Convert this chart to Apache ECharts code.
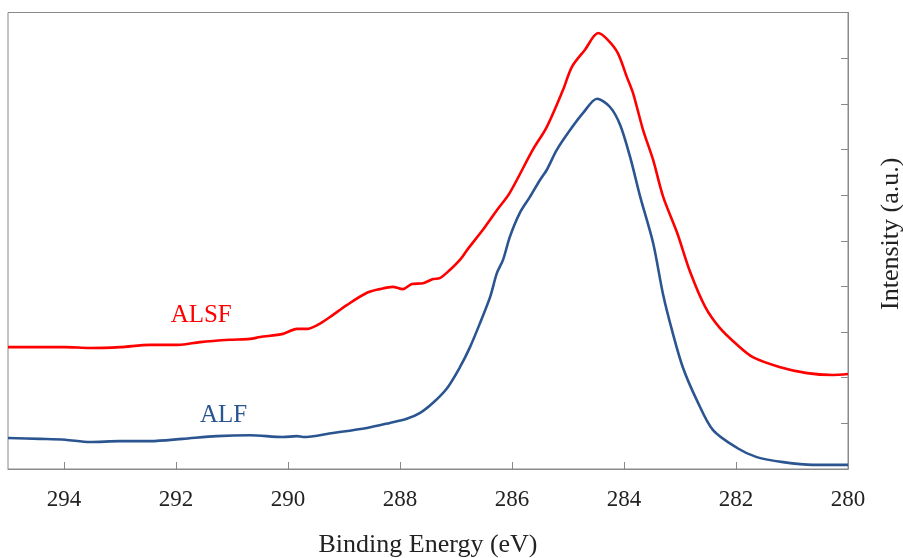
<!DOCTYPE html>
<html>
<head>
<meta charset="utf-8">
<script src="https://cdn.jsdelivr.net/npm/echarts@6/dist/echarts.min.js"></script>
<style>
html,body{margin:0;padding:0;background:#fff;}
#chart{width:903px;height:558px;}
</style>
</head>
<body>
<div id="chart"></div>
<script>
// Binding energy (eV) and intensity (a.u.)
const alsfEnergy = [295.00,294.43,293.98,293.54,293.00,292.46,291.96,291.57,291.04,290.68,290.50,290.09,289.84,289.66,289.48,289.25,288.95,288.59,288.36,288.13,287.95,287.79,287.59,287.41,287.29,287.11,286.93,286.80,286.52,286.27,286.04,285.63,285.38,285.09,284.93,284.70,284.46,284.29,284.11,283.95,283.84,283.66,283.48,283.30,283.05,282.82,282.55,282.29,281.98,281.70,281.21,280.73,280.27,280.00];
const alsfIntensity = [2.67,2.67,2.67,2.65,2.67,2.72,2.72,2.78,2.83,2.85,2.89,2.96,3.07,3.07,3.15,3.33,3.59,3.86,3.94,3.99,3.94,4.05,4.07,4.16,4.18,4.36,4.58,4.80,5.24,5.67,6.05,6.99,7.49,8.30,8.81,9.18,9.55,9.40,9.11,8.59,8.24,7.43,6.77,5.96,5.17,4.32,3.55,3.09,2.72,2.45,2.23,2.10,2.06,2.08];

const alfEnergy = [295.00,294.43,293.98,293.54,293.00,292.46,291.88,291.27,290.68,290.09,289.84,289.73,289.20,288.59,288.18,287.88,287.64,287.41,287.16,286.93,286.75,286.57,286.39,286.27,286.16,286.04,285.86,285.68,285.50,285.38,285.20,284.96,284.73,284.48,284.25,284.07,283.89,283.71,283.48,283.30,283.13,282.95,282.70,282.41,281.98,281.63,281.16,280.63,280.00];
const alfIntensity = [0.68,0.66,0.64,0.59,0.61,0.61,0.66,0.72,0.74,0.70,0.72,0.70,0.79,0.90,1.01,1.10,1.23,1.45,1.77,2.23,2.67,3.20,3.77,4.29,4.58,5.08,5.61,5.96,6.33,6.55,6.99,7.43,7.80,8.11,7.93,7.54,6.83,5.96,4.95,3.81,2.98,2.23,1.51,0.85,0.46,0.26,0.15,0.09,0.09];

const seriesNames = ['ALSF', 'ALF'];
const seriesColors = ['#ff0000', '#2b5590'];
// label anchor positions (data units)
const labelAt = [[291.55, 3.37], [291.15, 1.18]];

const xTickValues = [280, 282, 284, 286, 288, 290, 292, 294];
const xTickLabels = ['280', '282', '284', '286', '288', '290', '292', '294'];
const xTitle = 'Binding Energy (eV)';
const yTitle = 'Intensity (a.u.)';

function zip(xs, ys) { return xs.map((x, i) => [x, ys[i]]); }

const FONT = '"Liberation Serif", "Times New Roman", serif';
const AXIS_GREY = '#8a8a8a';

const chart = echarts.init(document.getElementById('chart'), null, {renderer: 'canvas'});
const datasets = [zip(alsfEnergy, alsfIntensity), zip(alfEnergy, alfIntensity)];

chart.setOption({
  animation: false,
  backgroundColor: '#ffffff',
  grid: {left: 8, right: 55, top: 12.5, bottom: 89, outerBoundsMode: 'none', containLabel: false,
    show: true, borderColor: AXIS_GREY, borderWidth: 1, backgroundColor: 'transparent'},
  xAxis: {
    type: 'value', min: 280, max: 295, inverse: true,
    name: xTitle, nameLocation: 'middle', nameGap: 63,
    nameTextStyle: {fontFamily: FONT, fontSize: 26, color: '#222'},
    axisLine: {show: true, lineStyle: {color: AXIS_GREY, width: 1}},
    axisTick: {show: true, inside: true, length: 7, lineStyle: {color: AXIS_GREY}, customValues: xTickValues},
    axisLabel: {show: true, margin: 19, fontFamily: FONT, fontSize: 23, color: '#222',
      customValues: xTickValues,
      formatter: v => xTickLabels[xTickValues.indexOf(v)] ?? ''},
    splitLine: {show: false}
  },
  yAxis: {
    type: 'value', position: 'right', min: 0, max: 10, interval: 1,
    name: yTitle, nameLocation: 'middle', nameGap: 30, nameRotate: 90,
    nameTextStyle: {fontFamily: FONT, fontSize: 26, color: '#222', padding: [0, 0, 0, 14]},
    axisLine: {show: true, lineStyle: {color: AXIS_GREY, width: 1}},
    axisTick: {show: true, inside: true, length: 7, lineStyle: {color: AXIS_GREY}},
    axisLabel: {show: false},
    splitLine: {show: false}
  },
  series: seriesNames.map((name, i) => ({
    name: name,
    type: 'line',
    data: datasets[i],
    showSymbol: false,
    smooth: 0.3,
    lineStyle: {color: seriesColors[i], width: 2.6},
    itemStyle: {color: seriesColors[i]},
    markPoint: {
      symbol: 'circle', symbolSize: 0, silent: true,
      label: {show: true, position: 'inside', formatter: name, fontFamily: FONT, fontSize: 25, color: seriesColors[i]},
      data: [{coord: labelAt[i], value: name}]
    }
  }))
});
</script>
</body>
</html>
